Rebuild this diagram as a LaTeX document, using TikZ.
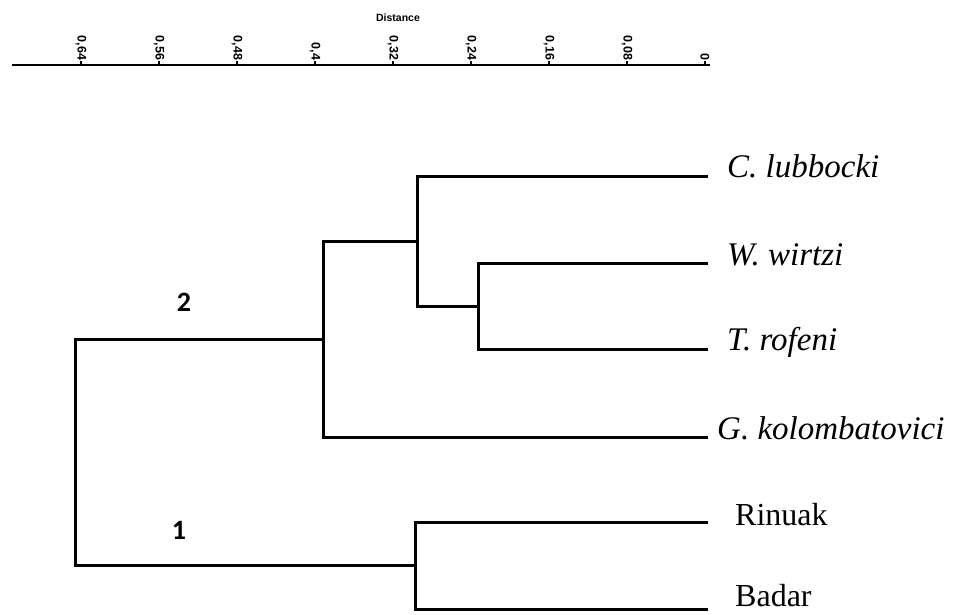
\documentclass[tikz,border=0pt]{standalone}
\usepackage{fontspec}
\setmainfont{Liberation Serif}
\newfontfamily\axisfont{Liberation Sans}
\newfontfamily\clusterfont{Carlito}
\begin{document}
\begin{tikzpicture}[x=1pt,y=-1pt,
  branch/.style={line width=3pt, line join=miter, line cap=butt},
  axisline/.style={line width=1.4pt},
  ticklabel/.style={font=\axisfont\bfseries\fontsize{12.5}{13}\selectfont, rotate=-90, anchor=east, inner sep=0pt},
  species/.style={font=\fontsize{33}{35}\selectfont\itshape, anchor=base west, inner sep=0pt},
  site/.style={font=\fontsize{32}{35}\selectfont, anchor=base west, inner sep=0pt},
  clusterno/.style={font=\clusterfont\bfseries\fontsize{28}{30}\selectfont, inner sep=0pt}]
\useasboundingbox (0,0) rectangle (961,615);

% distance axis
\node[font=\axisfont\bfseries\fontsize{10.5}{12}\selectfont] (title) at (398,18) {Distance};
\draw[axisline] (12,65) coordinate (axL) -- (710,65) coordinate (axR);
\foreach \lab/\xx in {{0,64}/81, {0,56}/159, {0,48}/237, {0,4}/315, {0,32}/393, {0,24}/471, {0,16}/549, {0,08}/627, {0}/705}{
  \draw[axisline] (\xx,65) -- (\xx,61);
  \node[ticklabel] at (\xx,60.5) {\lab};
}

% leaf ends
\coordinate (cL) at (708,176);
\coordinate (cW) at (708,263);
\coordinate (cT) at (708,349);
\coordinate (cG) at (708,437);
\coordinate (cR) at (708,522);
\coordinate (cB) at (708,609);

% internal joints
\coordinate (wt)   at (478,306);
\coordinate (cwt)  at (417,241.5);
\coordinate (g)    at (323,339);
\coordinate (rb)   at (415,565.5);
\coordinate (root) at (75,452);

% tree
\draw[branch] (cW) -| (wt) |- (cT);
\draw[branch] (cL) -| (cwt) |- (wt);
\draw[branch] (cwt) -| (g) |- (cG);
\draw[branch] (cR) -| (rb) |- (cB);
\draw[branch] (g) -| (root) |- (rb);

% leaf labels
\node[species] (lub) at (727,178) {C. lubbocki};
\node[species] (wir) at (727,265) {W. wirtzi};
\node[species] (rof) at (727,350) {T. rofeni};
\node[species] (kol) at (717,439) {G. kolombatovici};
\node[site] (rin) at (735,525) {Rinuak};
\node[site] (bad) at (735,606) {Badar};

% cluster numbers
\node[clusterno] (k2) at (184,302) {2};
\node[clusterno] (k1) at (179,530) {1};
\end{tikzpicture}
\end{document}
